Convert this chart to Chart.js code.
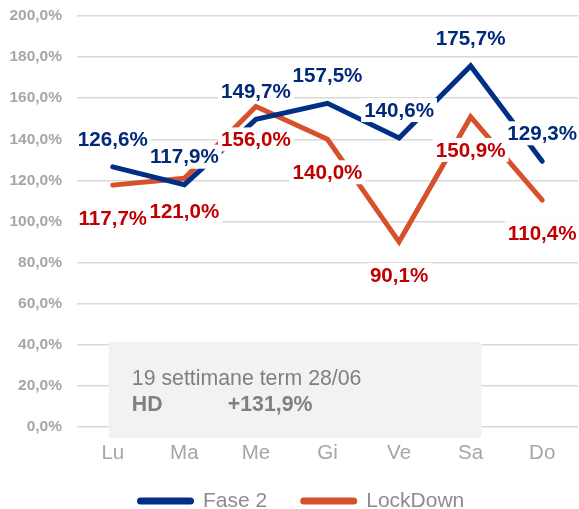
<!DOCTYPE html>
<html>
<head>
<meta charset="utf-8">
<script src="https://cdn.jsdelivr.net/npm/chart.js@4.4.1/dist/chart.umd.min.js"></script>
<style>
  html, body { margin: 0; padding: 0; background: #fff; }
  #wrap { width: 579px; height: 509px; }
</style>
</head>
<body>
<div id="wrap"><canvas id="hd-chart"></canvas></div>
<script>
const days = ['Lu', 'Ma', 'Me', 'Gi', 'Ve', 'Sa', 'Do'];
const fase2 = [126.6, 117.9, 149.7, 157.5, 140.6, 175.7, 129.3];
const lockdown = [117.7, 121.0, 156.0, 140.0, 90.1, 150.9, 110.4];
const seriesNames = ['Fase 2', 'LockDown'];
const noteTitle = '19 settimane term 28/06';
const noteLabel = 'HD';
const noteValue = '+131,9%';

const blue = '#002F86';
const red = '#D6512B';
const blueText = '#00297A';
const redText = '#C00000';
const grey = '#A6A6A6';
const FONT = '"Liberation Sans", Arial, sans-serif';

function pct(v) {
  return v.toFixed(1).replace('.', ',') + '%';
}

// grey note box, painted over the grid
const noteBox = {
  id: 'noteBox',
  beforeDatasetsDraw(chart) {
    const ctx = chart.ctx
    const x = chart.scales.x, y = chart.scales.y
    const left = x.getPixelForValue(0) - 4
    const right = x.getPixelForValue(5) + 11
    const top = y.getPixelForValue(41.5)
    const bottom = 438
    ctx.save()
    ctx.fillStyle = '#F2F2F2'
    ctx.beginPath()
    ctx.roundRect(left, top, right - left, bottom - top, 3)
    ctx.fill()
    ctx.fillStyle = '#808080'
    ctx.textBaseline = 'alphabetic'
    ctx.font = '21.3px ' + FONT
    ctx.fillText(noteTitle, left + 23, 385)
    ctx.font = 'bold 21.3px ' + FONT
    ctx.fillText(noteLabel, left + 23, 411)
    ctx.fillText(noteValue, left + 119, 411)
    ctx.restore()
  }
}

// value labels with white background
const valueLabels = {
  id: 'valueLabels',
  afterDatasetsDraw(chart) {
    const ctx = chart.ctx
    ctx.save()
    ctx.font = 'bold 20.6px ' + FONT
    ctx.textAlign = 'center'
    ctx.textBaseline = 'middle'
    chart.data.datasets.forEach((ds, i) => {
      const meta = chart.getDatasetMeta(i)
      const offset = i === 0 ? -28 : 33
      meta.data.forEach((pt, j) => {
        const txt = pct(ds.data[j])
        const w = ctx.measureText(txt).width
        const cy = pt.y + offset
        ctx.fillStyle = '#ffffff'
        ctx.fillRect(pt.x - w / 2 - 3, cy - 12, w + 6, 24)
        ctx.fillStyle = i === 0 ? blueText : redText
        ctx.fillText(txt, pt.x, cy + 1)
      })
    })
    ctx.restore()
  }
}

// legend with line swatches
const lineLegend = {
  id: 'lineLegend',
  afterDraw(chart) {
    const ctx = chart.ctx
    ctx.save()
    ctx.font = '21px ' + FONT
    ctx.textBaseline = 'middle'
    let x = 137
    const y = 501
    chart.data.datasets.forEach((ds) => {
      ctx.strokeStyle = ds.borderColor
      ctx.lineWidth = 7
      ctx.lineCap = 'round'
      ctx.beginPath()
      ctx.moveTo(x + 3.5, y)
      ctx.lineTo(x + 53.5, y)
      ctx.stroke()
      x += 57 + 9
      ctx.fillStyle = '#8C8C8C'
      ctx.fillText(ds.label, x, y)
      x += ctx.measureText(ds.label).width + 33
    })
    ctx.restore()
  }
}

const ctx = document.getElementById('hd-chart').getContext('2d')
new Chart(ctx, {
  type: 'line',
  data: {
    labels: days,
    datasets: [
      {
        label: seriesNames[0],
        data: fase2,
        borderColor: blue,
        backgroundColor: blue,
        borderWidth: 5,
        pointRadius: 0,
        tension: 0,
        borderJoinStyle: 'miter',
        borderCapStyle: 'round'
      },
      {
        label: seriesNames[1],
        data: lockdown,
        borderColor: red,
        backgroundColor: red,
        borderWidth: 5,
        pointRadius: 0,
        tension: 0,
        borderJoinStyle: 'miter',
        borderCapStyle: 'round'
      }
    ]
  },
  options: {
    responsive: true,
    maintainAspectRatio: false,
    animation: false,
    layout: { padding: { top: 16, right: 1, bottom: 42, left: 0 } },
    scales: {
      x: {
        offset: true,
        grid: { display: false },
        border: { display: false },
        ticks: {
          color: grey,
          padding: 6,
          font: { family: FONT, size: 20.5 }
        },
        afterFit: (scale) => {
          scale.height = 40
          scale.paddingLeft = 0
          scale.paddingRight = 0
        }
      },
      y: {
        min: 0,
        max: 200,
        grid: { color: '#D9D9D9', lineWidth: 1.5, drawTicks: false },
        border: { display: false },
        ticks: {
          stepSize: 20,
          color: grey,
          padding: 15,
          font: { family: FONT, size: 15.5, weight: 'bold' },
          callback: (value) => pct(value)
        },
        afterFit: (scale) => {
          scale.width = 77
          scale.paddingTop = 0
          scale.paddingBottom = 0
        }
      }
    },
    plugins: {
      legend: { display: false },
      tooltip: { enabled: false }
    }
  },
  plugins: [noteBox, valueLabels, lineLegend]
})
</script>
</body>
</html>
